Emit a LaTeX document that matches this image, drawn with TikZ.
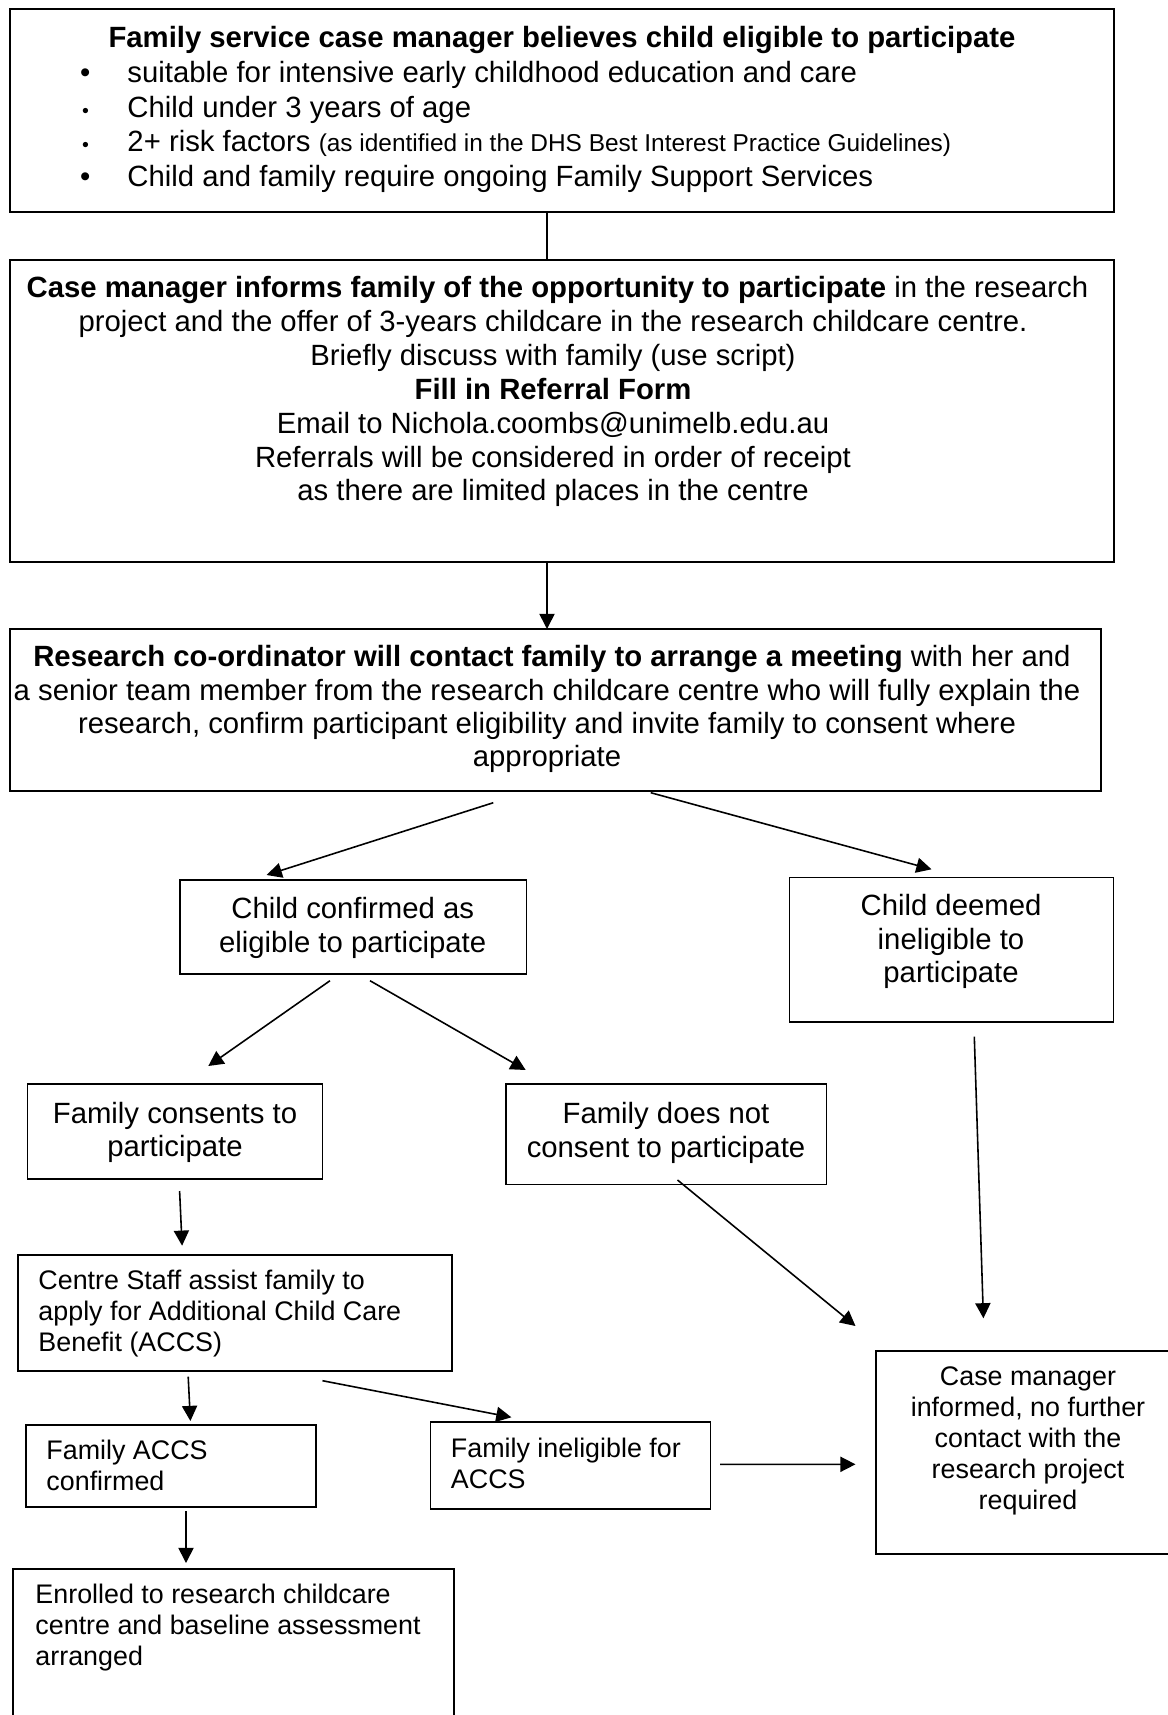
\documentclass[tikz,border=0pt]{standalone}
\usepackage{fontspec}
\setmainfont{Liberation Sans}
\usetikzlibrary{arrows.meta}
\begin{document}
\begin{tikzpicture}[x=0.4096pt,y=-0.4096pt,
  box/.style={draw, line width=0.8pt, inner sep=0pt, outer sep=0pt, anchor=north west},
  sz/.style 2 args={minimum width=#1*0.4096pt, minimum height=#2*0.4096pt},
  tc/.style={inner sep=0pt, anchor=north, align=center, font=\fontsize{12}{13.8}\selectfont},
  sc/.style={inner sep=0pt, anchor=north, align=center, font=\fontsize{11}{12.65}\selectfont},
  sl/.style={inner sep=0pt, anchor=north west, align=left, font=\fontsize{11}{12.65}\selectfont},
  arr/.style={line width=0.65pt, -{Triangle[length=6.2pt,width=6.2pt]}},
  conn/.style={line width=0.65pt}]
\useasboundingbox (0,0) rectangle (1168,1715);

% boxes
\node[box, sz={1104}{203}] (b1) at (10,9) {};
\node[box, sz={1104}{302}] (b2) at (10,260) {};
\node[box, sz={1091}{162}] (b3) at (10,629) {};
\node[box, sz={346.5}{94}] (b4) at (180,880) {};
\node[box, sz={324}{144.5}] (b5) at (789.5,877.5) {};
\node[box, sz={295}{95}] (b6) at (27.5,1084) {};
\node[box, sz={320.5}{100.5}] (b7) at (506,1084) {};
\node[box, sz={434}{116}] (b8) at (18,1255) {};
\node[box, sz={290}{82}] (b9) at (26,1425) {};
\node[box, sz={280}{87}] (b10) at (430.5,1422) {};
\node[box, sz={330}{203}] (b11) at (876,1351) {};
\node[box, sz={441}{200}] (b12) at (13,1569) {};

% texts
\node[tc, font=\fontsize{12}{13.8}\selectfont\bfseries] (b1h) at (562,23.1)
  {\strut Family service case manager believes child eligible to participate};
\node[inner sep=0pt, anchor=north west, align=left, font=\fontsize{12}{14.1}\selectfont] (b1l) at (127,58.2)
  {\strut\llap{\textbullet\hspace{15.2pt}}suitable for intensive early childhood education and care\\
   \llap{{\fontsize{8}{9}\selectfont\textbullet}\hspace{15.8pt}}Child under 3 years of age\\
   \llap{{\fontsize{8}{9}\selectfont\textbullet}\hspace{15.8pt}}2+ risk factors {\fontsize{10}{12}\selectfont(as identified in the DHS Best Interest Practice Guidelines)}\\
   \llap{\textbullet\hspace{15.2pt}}Child and family require ongoing Family Support Services};

\node[tc, font=\fontsize{12}{13.9}\selectfont] (b2t) at (553,273.1)
  {\strut\hspace*{3.6pt}\textbf{Case manager informs family of the opportunity to participate} in the research\\
   project and the offer of 3-years childcare in the research childcare centre.\\
   Briefly discuss with family (use script)\\
   \textbf{Fill in Referral Form}\\
   Email to Nichola.coombs@unimelb.edu.au\\
   Referrals will be considered in order of receipt\\
   as there are limited places in the centre};

\node[tc, font=\fontsize{12}{13.65}\selectfont] (b3t) at (547,643.1)
  {\strut\hspace*{4pt}\textbf{Research co-ordinator will contact family to arrange a meeting} with her and\\
   a senior team member from the research childcare centre who will fully explain the\\
   research, confirm participant eligibility and invite family to consent where\\
   appropriate};

\node[tc] (b4t) at (352.7,894.7) {\strut Child confirmed as\\eligible to participate};
\node[tc] (b5t) at (951,891.4) {\strut Child deemed\\ineligible to\\participate};
\node[tc] (b6t) at (175,1099.1) {\strut Family consents to\\participate};
\node[tc] (b7t) at (666,1099.3) {\strut Family does not\\consent to participate};

\node[sl] (b8t) at (38,1267.7) {\strut Centre Staff assist family to\\apply for Additional Child Care\\Benefit (ACCS)};
\node[sl] (b9t) at (46,1437.7) {\strut Family ACCS\\confirmed};
\node[sl] (b10t) at (450.5,1435.1) {\strut Family ineligible for\\ACCS};
\node[sc] (b11t) at (1028,1363.4) {\strut Case manager\\informed, no further\\contact with the\\research project\\required};
\node[sl] (b12t) at (35,1581.7) {\strut Enrolled to research childcare\\centre and baseline assessment\\arranged};

% connectors
\draw[conn] ([shift={(537,0)}]b1.south west) -- ([shift={(537,0)}]b2.north west);
\draw[arr] ([shift={(537,0)}]b2.south west) -- ([shift={(537,0)}]b3.north west);
\draw[arr] ([shift={(483.3,11.7)}]b3.south west) -- ([shift={(86.7,-5)}]b4.north west);
\draw[arr] ([shift={(640.7,1.7)}]b3.south west) -- ([shift={(142,-8.2)}]b5.north west);
\draw[arr] ([shift={(150,6.7)}]b4.south west) -- ([shift={(180.8,-18)}]b6.north west);
\draw[arr] ([shift={(190,6.7)}]b4.south west) -- ([shift={(19.7,-14)}]b7.north west);
\draw[arr] ([shift={(184.8,14.7)}]b5.south west) -- ([shift={(107.4,-32.7)}]b11.north west);
\draw[arr] ([shift={(171.5,-4.5)}]b7.south west) -- ([shift={(-20.5,-25)}]b11.north west);
\draw[arr] ([shift={(152.1,12)}]b6.south west) -- ([shift={(164.1,-9.3)}]b8.north west);
\draw[arr] ([shift={(170.2,5.7)}]b8.south west) -- ([shift={(164.4,-4)}]b9.north west);
\draw[arr] ([shift={(304.5,9.7)}]b8.south west) -- ([shift={(80.9,-4.7)}]b10.north west);
\draw[arr] ([shift={(9.6,-1.2)}]b10.east) -- ([shift={(-20.5,113.3)}]b11.north west);
\draw[arr] ([shift={(160,4)}]b9.south west) -- ([shift={(173,-6)}]b12.north west);
\end{tikzpicture}
\end{document}
